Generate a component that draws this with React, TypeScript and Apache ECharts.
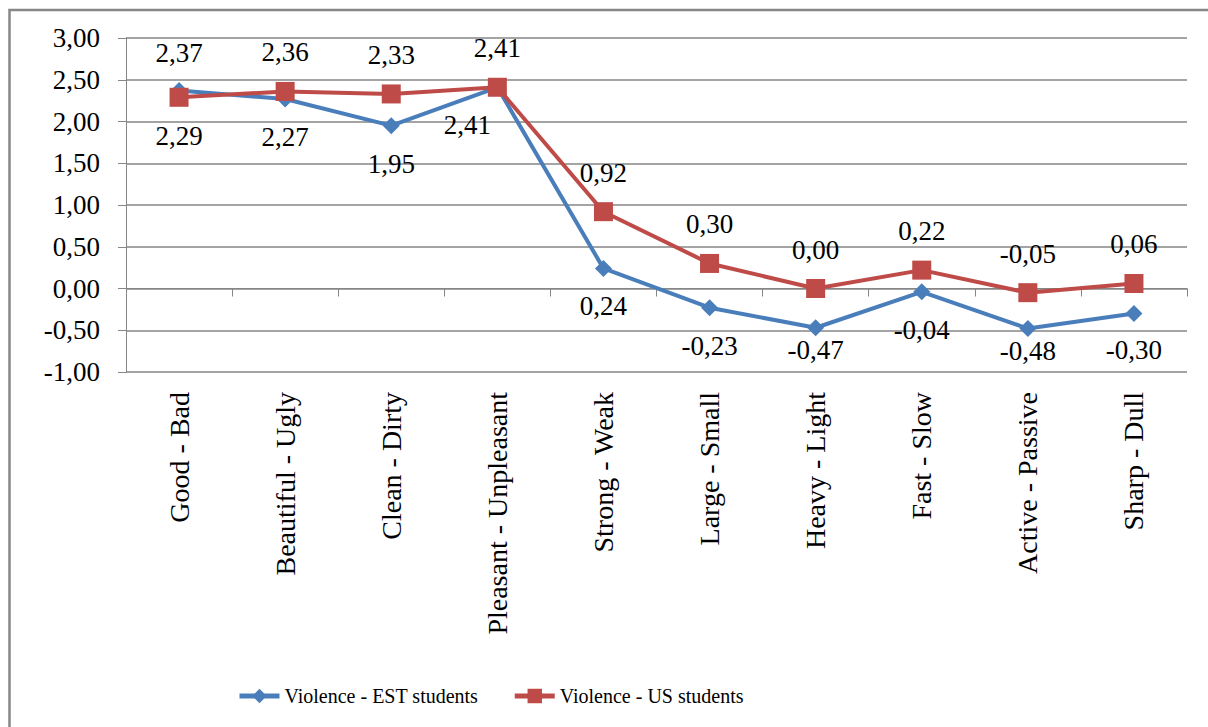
import React, { useEffect, useRef } from "react";
import * as echarts from "echarts";

// Semantic differential pairs on the category axis
const categories = [
  "Good - Bad",
  "Beautiful - Ugly",
  "Clean - Dirty",
  "Pleasant - Unpleasant",
  "Strong - Weak",
  "Large - Small",
  "Heavy - Light",
  "Fast - Slow",
  "Active - Passive",
  "Sharp - Dull",
];

// Mean ratings of "Violence"
const estStudents = [2.37, 2.27, 1.95, 2.41, 0.24, -0.23, -0.47, -0.04, -0.48, -0.3];
const usStudents = [2.29, 2.36, 2.33, 2.41, 0.92, 0.3, 0.0, 0.22, -0.05, 0.06];

const seriesNames = ["Violence - EST students", "Violence - US students"];
const yTicks = { min: -1, max: 3, step: 0.5 };

const FONT = "Liberation Serif, serif";
const GRID_TOP = 38;
const GRID_BOTTOM_PX = 372;
const pxPerUnit = (GRID_BOTTOM_PX - GRID_TOP) / (yTicks.max - yTicks.min);

const fmt = (v: number) => v.toFixed(2).replace(".", ",");

// Label placement: the higher point of each pair gets its label above,
// the lower one below; labels are kept inside the plot area.
function buildData(values: number[], other: number[], isUS: boolean) {
  return values.map((v, i) => {
    const o = other[i];
    const above = isUS ? v >= o : v > o;
    const y = GRID_TOP + (yTicks.max - v) * pxPerUnit;
    let distance = 16;
    if (!above) {
      distance = Math.max(0, Math.min(16, GRID_BOTTOM_PX - 8 - y - 36));
    }
    const offset = !above && v === o ? [-30, 0] : [0, 0];
    return {
      value: v,
      label: { position: above ? "top" : "bottom", distance, offset },
    };
  });
}

export default function App() {
  const ref = useRef<HTMLDivElement>(null);

  useEffect(() => {
    if (!ref.current) return;
    const chart = echarts.init(ref.current, undefined, { renderer: "svg" });
    const labelStyle = {
      show: true,
      color: "#000",
      fontFamily: FONT,
      fontSize: 27,
      formatter: (p: any) => fmt(p.value),
    };
    chart.setOption({
      animation: false,
      backgroundColor: "#fff",
      textStyle: { fontFamily: FONT },
      graphic: [
        {
          // chart frame, open to the right and bottom
          type: "rect",
          shape: { x: 9.5, y: 10, width: 1400, height: 1000 },
          style: { fill: "none", stroke: "#878787", lineWidth: 2.5 },
          silent: true,
        },
      ],
      grid: { left: 126, right: 21, top: GRID_TOP, bottom: 727 - GRID_BOTTOM_PX },
      legend: {
        left: 232,
        top: 681,
        itemWidth: 40,
        itemHeight: 18,
        itemGap: 34,
        data: seriesNames,
        lineStyle: { width: 5 },
        textStyle: { fontFamily: FONT, fontSize: 20, color: "#000" },
      },
      xAxis: {
        type: "category",
        data: categories,
        boundaryGap: true,
        axisLine: { lineStyle: { color: "#868686", width: 1 } },
        axisTick: { show: true, length: 8, lineStyle: { color: "#868686" } },
        axisLabel: {
          interval: 0,
          rotate: 90,
          margin: 20,
          color: "#000",
          fontFamily: FONT,
          fontSize: 28,
        },
      },
      yAxis: {
        type: "value",
        min: yTicks.min,
        max: yTicks.max,
        interval: yTicks.step,
        axisLine: { show: true, lineStyle: { color: "#868686", width: 1 } },
        axisTick: { show: true, length: 8, lineStyle: { color: "#868686" } },
        splitLine: { lineStyle: { color: "#868686", width: 1.5 } },
        axisLabel: {
          margin: 26,
          color: "#000",
          fontFamily: FONT,
          fontSize: 27,
          formatter: (v: number) => fmt(v),
        },
      },
      series: [
        {
          name: seriesNames[0],
          type: "line",
          data: buildData(estStudents, usStudents, false),
          symbol: "diamond",
          symbolSize: 17,
          color: "#4a7ebb",
          lineStyle: { width: 4, color: "#4a7ebb" },
          itemStyle: { color: "#4a7ebb" },
          label: labelStyle,
          z: 2,
        },
        {
          name: seriesNames[1],
          type: "line",
          data: buildData(usStudents, estStudents, true),
          symbol: "rect",
          symbolSize: 19,
          color: "#be4b48",
          lineStyle: { width: 4, color: "#be4b48" },
          itemStyle: { color: "#be4b48" },
          label: labelStyle,
          z: 3,
        },
      ],
    });
    return () => chart.dispose();
  }, []);

  return (
    <div
      ref={ref}
      style={{ position: "absolute", left: 0, top: 0, width: 1208, height: 727 }}
    />
  );
}
